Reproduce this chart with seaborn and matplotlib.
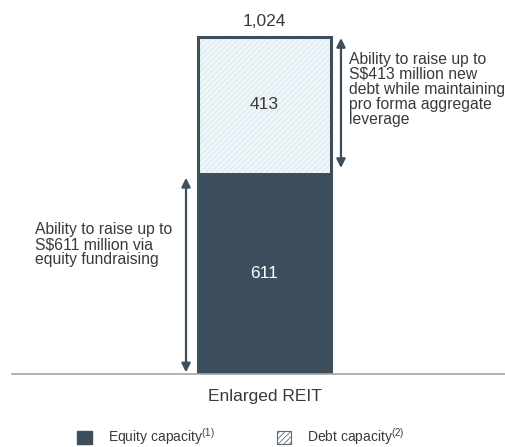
import matplotlib
matplotlib.use("Agg")
import matplotlib.pyplot as plt
import seaborn as sns
import pandas as pd
from matplotlib.patches import Patch

categories = ["Enlarged REIT"]
equity = [611]
debt = [413]
total_label = "1,024"
left_note = "Ability to raise up to\nS$611 million via\nequity fundraising"
right_note = "Ability to raise up to\nS$413 million new\ndebt while maintaining\npro forma aggregate\nleverage"
legend_labels = [r"Equity capacity$^{\mathrm{(1)}}$", r"Debt capacity$^{\mathrm{(2)}}$"]

sns.set_theme(style="white")
plt.rcParams['font.family'] = ['Liberation Sans', 'DejaVu Sans']
plt.rcParams['mathtext.fontset'] = 'custom'
plt.rcParams['mathtext.rm'] = 'Liberation Sans'
plt.rcParams['hatch.linewidth'] = 0.6

DARK = '#3d4f5c'
TEXT = '#3a3a3a'
LIGHT = '#eff6f9'
HATCH = '#d8e6ec'

fig = plt.figure(figsize=(5.05, 4.47), dpi=100)
ax = fig.add_axes([12/505, 73/447, 493/505, 374/447])

total = [e + d for e, d in zip(equity, debt)]
df = pd.DataFrame({"cat": categories, "equity": equity, "debt": debt, "total": total})

sns.barplot(data=df, x="cat", y="total", color=LIGHT, saturation=1, width=0.6,
            edgecolor=HATCH, linewidth=0, hatch='//////', ax=ax)
sns.barplot(data=df, x="cat", y="total", color=DARK, saturation=1, width=0.6,
            fill=False, linewidth=2.2, ax=ax)
sns.barplot(data=df, x="cat", y="equity", color=DARK, saturation=1, width=0.6,
            linewidth=0, ax=ax)

ax.set_xlim(-1.139, 1.085)
ax.set_ylim(0, 1136.5)
ax.set_xlabel("")
ax.set_ylabel("")
ax.set_yticks([])
for s in ["left", "right", "top"]:
    ax.spines[s].set_visible(False)
ax.spines["bottom"].set_color('#a6a6a6')
ax.spines["bottom"].set_linewidth(1.2)
ax.tick_params(axis='x', length=0, pad=11, labelsize=12.5, labelcolor=TEXT)

# value labels
for i, (e, d, t) in enumerate(zip(equity, debt, total)):
    ax.text(i, e / 2, f"{e:,}", ha='center', va='center', fontsize=12.5, color='white')
    ax.text(i, e + d / 2, f"{d:,}", ha='center', va='center', fontsize=12.5, color=TEXT)
    ax.annotate(total_label, xy=(i, t), xytext=(0, 6), textcoords='offset points',
                ha='center', va='bottom', fontsize=12.5, color=TEXT)

# arrows
arrow_kw = dict(arrowstyle='<|-|>', color=DARK, lw=1.6, mutation_scale=13,
                shrinkA=0, shrinkB=0)
ax.annotate('', xy=(-0.354, equity[0] - 15), xytext=(-0.354, 5), arrowprops=arrow_kw)
ax.annotate('', xy=(0.345, total[0] - 3), xytext=(0.345, equity[0] + 15), arrowprops=arrow_kw)

ax.text(0.0467, 0.345, left_note, transform=ax.transAxes, ha='left', va='center',
        fontsize=11.3, color=TEXT, linespacing=1.0)
ax.text(0.684, 0.762, right_note, transform=ax.transAxes, ha='left', va='center',
        fontsize=11.3, color=TEXT, linespacing=1.0)

handles = [Patch(facecolor=DARK, edgecolor=DARK),
           Patch(facecolor='white', edgecolor='#5b6b76', hatch='//////', linewidth=0.8)]
fig.legend(handles, legend_labels, loc='center', bbox_to_anchor=(0.477, 1 - 437/447),
           ncol=2, frameon=False, fontsize=10, handlelength=1.05, handleheight=1.05,
           handletextpad=1.15, columnspacing=4.5, labelcolor=TEXT)

fig.savefig("out.png", dpi=100)
